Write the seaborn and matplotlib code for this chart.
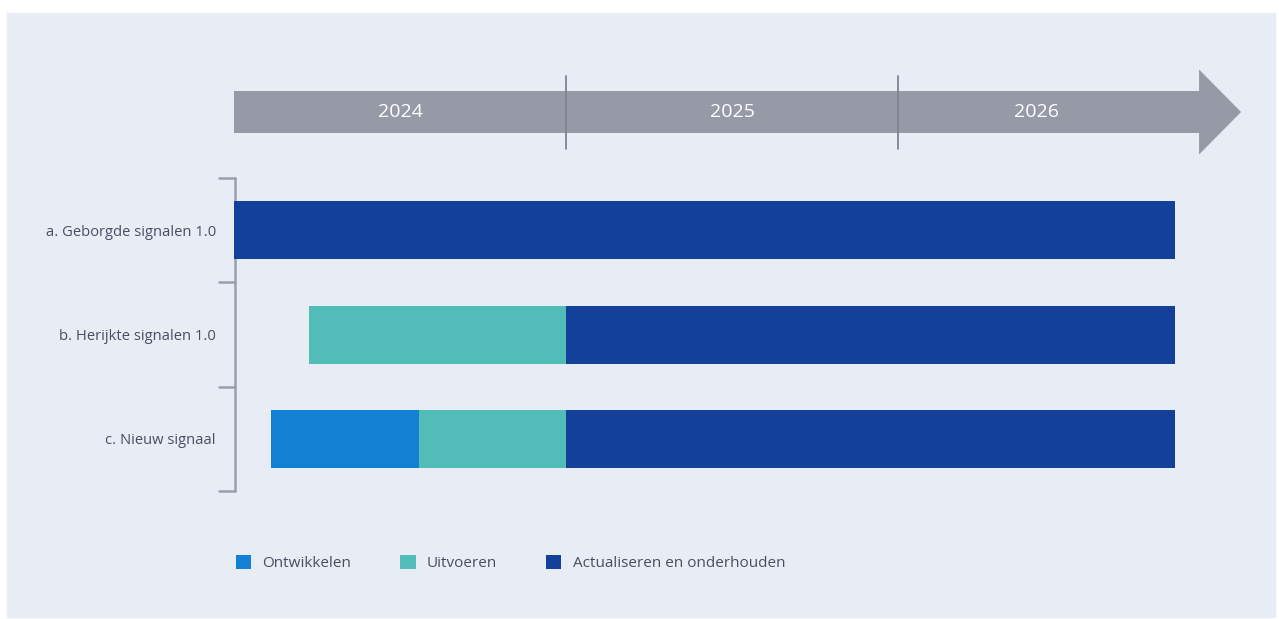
import numpy as np
import pandas as pd
import matplotlib
matplotlib.use("Agg")
import matplotlib.pyplot as plt
import seaborn as sns
from matplotlib.patches import Rectangle, Patch

# data: months counted from 1 Jan 2024
jaren = ["2024", "2025", "2026"]
taken = ["a. Geborgde signalen 1.0", "b. Herijkte signalen 1.0", "c. Nieuw signaal"]
fases = ["Ontwikkelen", "Uitvoeren", "Actualiseren en onderhouden"]
start_ontwikkelen = [np.nan, np.nan, 1.35]
start_uitvoeren = [np.nan, 2.7, 6.7]
start_actualiseren = [0.0, 12.0, 12.0]
einde = [34.0, 34.0, 34.0]
tijdlijn_einde = 36.4

kleuren = {"Ontwikkelen": "#1381d3", "Uitvoeren": "#52bcb9",
           "Actualiseren en onderhouden": "#13419a"}
achtergrond = "#e8ecf5"
tekst_kleur = "#484d63"
grijs = "#969aa6"

df = pd.DataFrame({"taak": taken,
                   "Ontwikkelen": start_ontwikkelen,
                   "Uitvoeren": start_uitvoeren,
                   "Actualiseren en onderhouden": start_actualiseren,
                   "einde": einde})

sns.set_theme(style="white")
plt.rcParams["font.family"] = ["Open Sans", "DejaVu Sans"]

W, H = 1279, 619
fig = plt.figure(figsize=(W / 100, H / 100), dpi=100, facecolor="white")
fig.patches.append(Rectangle((7 / W, 2 / H), 1268 / W, 604 / H,
                             transform=fig.transFigure, color=achtergrond, zorder=-10))

# axes: x in months (332 px per year), y in rows (104.5 px per row)
px_maand = 332 / 12
px_rij = 104.5
links_px, rechts_px = 234, 1250
top_px, onder_px = 50, 510
ax = fig.add_axes([links_px / W, (H - onder_px) / H,
                   (rechts_px - links_px) / W, (onder_px - top_px) / H])
ax.set_xlim(0, (rechts_px - links_px) / px_maand)
ax.set_ylim((onder_px - 230) / px_rij, -(230 - top_px) / px_rij)
ax.patch.set_alpha(0)
for s in ax.spines.values():
    s.set_visible(False)

# bars
y = np.arange(len(df))
volgorde = fases + ["einde"]
for i, fase in enumerate(fases):
    begin = df[fase].values
    volgende = df[volgorde[i + 1:]].bfill(axis=1).iloc[:, 0].values
    ax.barh(y, volgende - begin, left=begin, height=58 / px_rij,
            color=kleuren[fase], linewidth=0, label=fase, zorder=3)

ax.set_yticks(y)
ax.set_yticklabels(df["taak"], fontsize=10.6, color=tekst_kleur)
ax.tick_params(axis="y", length=0, pad=13)
ax.set_xticks([])

# bracket on the left
ax.plot([0.04, 0.04], [-0.5, len(df) - 0.5], color="#9a9fae", lw=1.8,
        clip_on=False, zorder=2)
for t in np.arange(len(df) + 1) - 0.5:
    ax.plot([-0.55, 0.04], [t, t], color="#9a9fae", lw=1.8, clip_on=False, zorder=2)

# timeline arrow
ay = -(230 - 112) / px_rij
body = 21 / px_rij
kop = 42.5 / px_rij
kop_len = 42 / px_maand
xs = [0, tijdlijn_einde - kop_len, tijdlijn_einde - kop_len, tijdlijn_einde,
      tijdlijn_einde - kop_len, tijdlijn_einde - kop_len, 0]
ys = [ay - body, ay - body, ay - kop, ay, ay + kop, ay + body, ay + body]
ax.fill(xs, ys, color=grijs, lw=0, zorder=1)
for k in range(1, len(jaren)):
    ax.plot([12 * k, 12 * k], [ay - 36 / px_rij, ay + 37 / px_rij],
            color="#7d8295", lw=1.3, zorder=2)
for k, jaar in enumerate(jaren):
    midden = 12 * k + 6 if k < len(jaren) - 1 else (24 + einde[0]) / 2
    ax.text(midden, ay, jaar, color="white", fontsize=14, ha="center",
            va="center", zorder=3)

# legend
handles = [Patch(facecolor=kleuren[f], edgecolor="none", label=f) for f in fases]
fig.legend(handles=handles, loc="center left", ncol=3, frameon=False,
           bbox_to_anchor=(222 / W, (H - 563) / H), fontsize=11,
           labelcolor=tekst_kleur, handlelength=1.0, handleheight=1.0,
           handletextpad=0.75, columnspacing=3.2)

fig.savefig("out.png", dpi=100, facecolor="white")
